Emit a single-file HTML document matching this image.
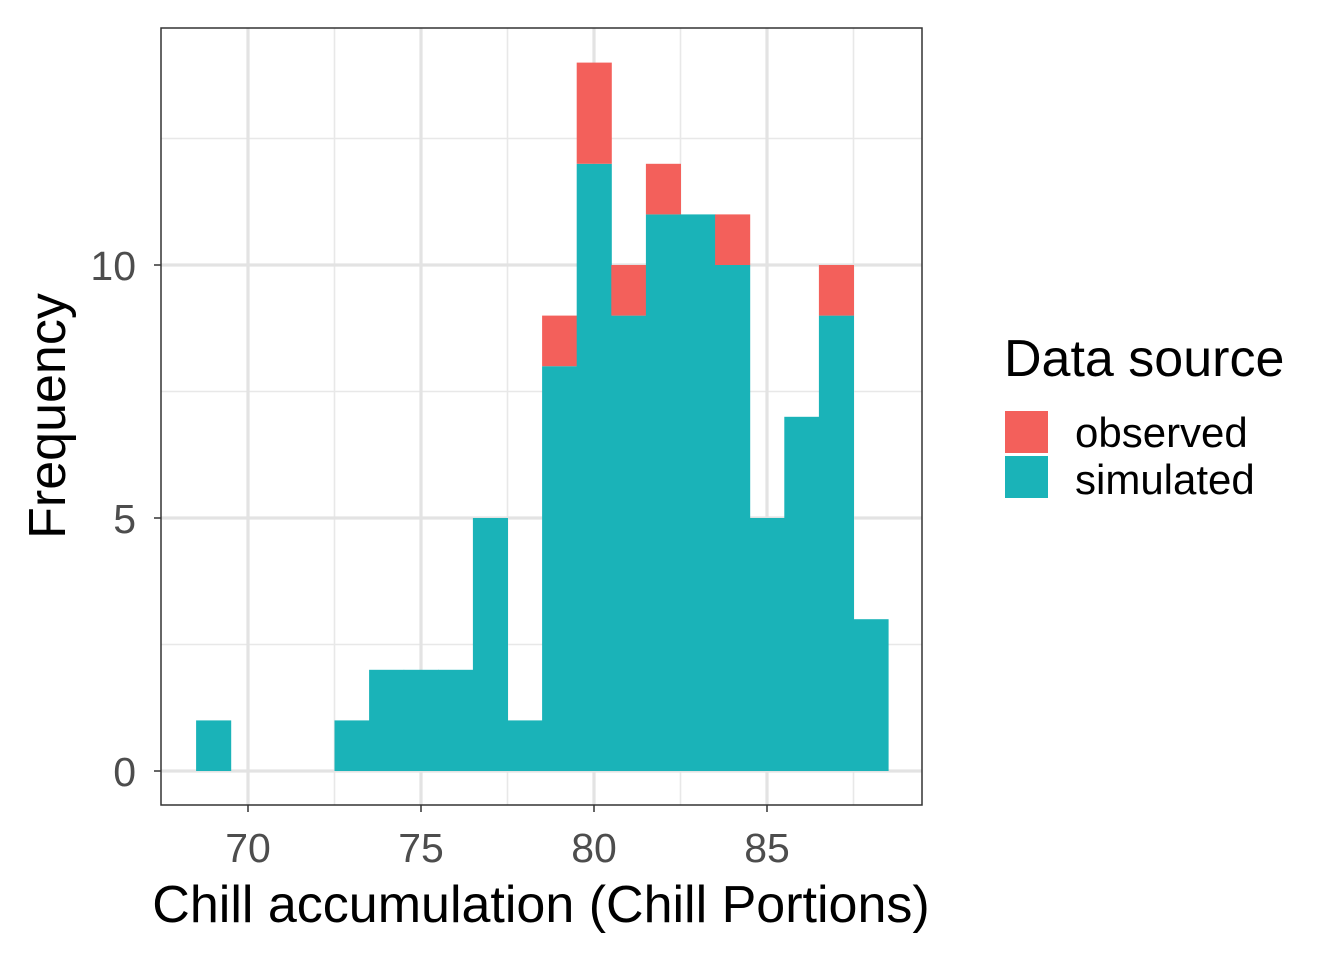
<!DOCTYPE html>
<html><head><meta charset="utf-8"><style>
body{margin:0;background:#fff;}
svg text{font-family:"Liberation Sans",Arial,sans-serif;}
</style></head><body>
<svg id="chart" width="1344" height="960" xmlns="http://www.w3.org/2000/svg">
<g id="grid"></g>
<g id="bars"></g>
<rect x="161" y="28" width="761" height="777" fill="none" stroke="#333" stroke-width="1.5"/>
<g id="ticks"></g>
<text x="541" y="922" font-size="52" text-anchor="middle" fill="#000">Chill accumulation (Chill Portions)</text>
<text transform="translate(65,416) rotate(-90)" font-size="52" text-anchor="middle" fill="#000">Frequency</text>
<g>
<text x="1004" y="376" font-size="52" fill="#000">Data source</text>
<rect x="1005" y="411" width="43" height="42" fill="#F3605B"/>
<text x="1075" y="447" font-size="42" fill="#000">observed</text>
<rect x="1005" y="456" width="43" height="42" fill="#1AB3B8"/>
<text x="1075" y="494" font-size="42" fill="#000">simulated</text>
</g>
</svg>
<script>
const bins = [69,70,71,72,73,74,75,76,77,78,79,80,81,82,83,84,85,86,87,88];
const simulated = [1,0,0,0,1,2,2,2,5,1,8,12,9,11,11,10,5,7,9,3];
const observed = [0,0,0,0,0,0,0,0,0,0,1,2,1,1,0,1,0,0,1,0];
const xTicks = [70,75,80,85];
const yTicks = [0,5,10];
const xMinor = [72.5,77.5,82.5,87.5];
const yMinor = [2.5,7.5,12.5];
const NS='http://www.w3.org/2000/svg';
const x = v => 248 + (v-70)*34.6;
const y = v => 771 - v*50.6;
const X0=161,X1=922,Y0=28,Y1=805;
function mk(tag, attrs, parent){const e=document.createElementNS(NS,tag);for(const k in attrs)e.setAttribute(k,attrs[k]);parent.appendChild(e);return e;}
const grid=document.getElementById('grid'), bars=document.getElementById('bars'), ticks=document.getElementById('ticks');
xMinor.forEach(v=>{const l=mk('line',{x1:x(v),x2:x(v),y1:Y0,y2:Y1,stroke:'#e8e8e8','stroke-width':1.6},grid);

});
yMinor.forEach(v=>{const l=mk('line',{x1:X0,x2:X1,y1:y(v),y2:y(v),stroke:'#e8e8e8','stroke-width':1.6},grid);

});
xTicks.forEach(v=>{const l=mk('line',{x1:x(v),x2:x(v),y1:Y0,y2:Y1,stroke:'#e3e3e3','stroke-width':3.2},grid);


const t=mk('line',{x1:x(v),x2:x(v),y1:Y1,y2:Y1+7,stroke:'#333','stroke-width':1.5},ticks);


const tx=mk('text',{x:x(v),y:862,'font-size':41,'text-anchor':'middle',fill:'#4d4d4d'},ticks);tx.textContent=v;

});
yTicks.forEach(v=>{const l=mk('line',{x1:X0,x2:X1,y1:y(v),y2:y(v),stroke:'#e3e3e3','stroke-width':3.2},grid);


const t=mk('line',{x1:X0-7,x2:X0,y1:y(v),y2:y(v),stroke:'#333','stroke-width':1.5},ticks);


const tx=mk('text',{x:X0-25,y:y(v)+15,'font-size':41,'text-anchor':'end',fill:'#4d4d4d'},ticks);tx.textContent=v;

});
bins.forEach((b,i)=>{
 const xl=x(b-0.5), w=x(b+0.5)-xl;
 if(simulated[i]>0){const r=mk('rect',{x:xl,y:y(simulated[i]),width:w+0.5,height:y(0)-y(simulated[i]),fill:'#1AB3B8'},bars);
 
 }
 if(observed[i]>0){const top=simulated[i]+observed[i];const r=mk('rect',{x:xl,y:y(top),width:w+0.5,height:y(simulated[i])-y(top),fill:'#F3605B'},bars);
 
 }
});
</script>
</body></html>
